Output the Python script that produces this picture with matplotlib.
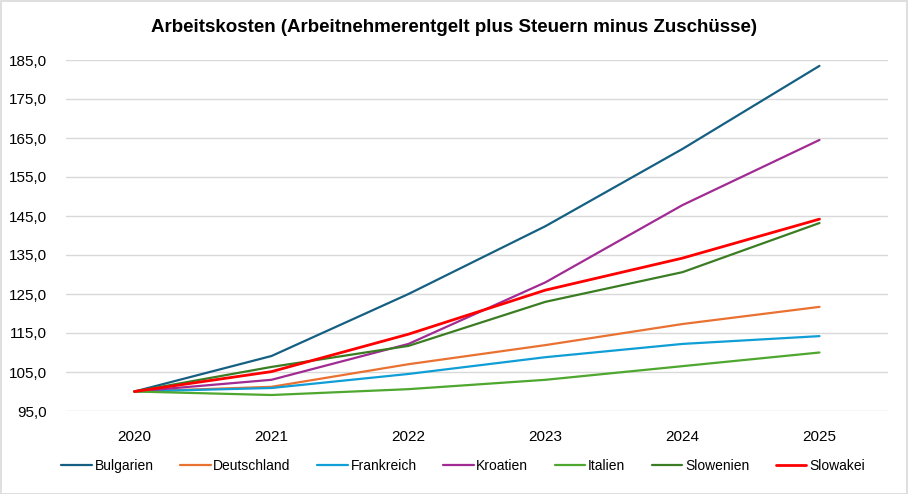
import matplotlib
matplotlib.use("Agg")
import numpy as np
import matplotlib.pyplot as plt
from matplotlib.ticker import FuncFormatter
from matplotlib.patches import Rectangle

years = ["2020", "2021", "2022", "2023", "2024", "2025"]
bulgarien = [100.0, 109.1, 125.0, 142.4, 162.2, 183.5]
deutschland = [100.0, 101.2, 107.0, 111.9, 117.3, 121.7]
frankreich = [100.0, 100.9, 104.5, 108.8, 112.2, 114.2]
kroatien = [100.0, 103.0, 112.2, 128.0, 147.8, 164.5]
italien = [100.0, 99.1, 100.6, 103.0, 106.5, 110.0]
slowenien = [100.0, 106.3, 111.7, 123.0, 130.6, 143.2]
slowakei = [100.0, 105.1, 114.7, 126.0, 134.2, 144.2]

series = [
    ("Bulgarien", bulgarien, "#156082"),
    ("Deutschland", deutschland, "#E97132"),
    ("Frankreich", frankreich, "#0F9ED5"),
    ("Kroatien", kroatien, "#A02B93"),
    ("Italien", italien, "#4EA72E"),
    ("Slowenien", slowenien, "#3B7D23"),
    ("Slowakei", slowakei, "#FF0000"),
]

plt.rcParams['font.family'] = ['Liberation Sans', 'DejaVu Sans']

W, H = 908, 494
fig = plt.figure(figsize=(W / 100, H / 100), dpi=100)
ax = fig.add_axes([66 / W, 1 - 411 / H, (888 - 66) / W, (411 - 60) / H])

x = list(range(len(years)))
for name, vals, col in series:
    lw = 2.0 if name == "Slowakei" else 1.6
    ax.plot(x, vals, color=col, lw=lw, label=name, solid_capstyle='round', zorder=3)

ax.set_xlim(-0.5, len(years) - 0.5)
ax.set_ylim(95, 185)
ax.set_yticks(np.arange(95, 186, 10))
ax.yaxis.set_major_formatter(FuncFormatter(lambda v, p: f"{v:.1f}".replace(".", ",")))
ax.set_xticks(x)
ax.set_xticklabels(years)
ax.grid(axis='y', color='#d9d9d9', lw=1.0, zorder=0)
for s in ax.spines.values():
    s.set_visible(False)
ax.tick_params(axis='both', length=0, labelsize=11, colors='black')
ax.tick_params(axis='x', pad=14)
ax.tick_params(axis='y', pad=14)

fig.text(454 / W, 1 - 27 / H, "Arbeitskosten (Arbeitnehmerentgelt plus Steuern minus Zuschüsse)",
         ha='center', va='center', fontsize=13.5, fontweight='bold')

handles, labels = ax.get_legend_handles_labels()
fig.legend(handles, labels, loc='center', bbox_to_anchor=(463 / W, 1 - 466 / H), ncol=7,
           frameon=False, fontsize=10, handlelength=2.2, handletextpad=0.2, columnspacing=1.9)

fig.patches.append(Rectangle((0.5 / W, 0.5 / H), 1 - 1.5 / W, 1 - 1.5 / H, transform=fig.transFigure,
                             fill=False, edgecolor='#d9d9d9', lw=1.2))

fig.savefig("out.png", dpi=100)
